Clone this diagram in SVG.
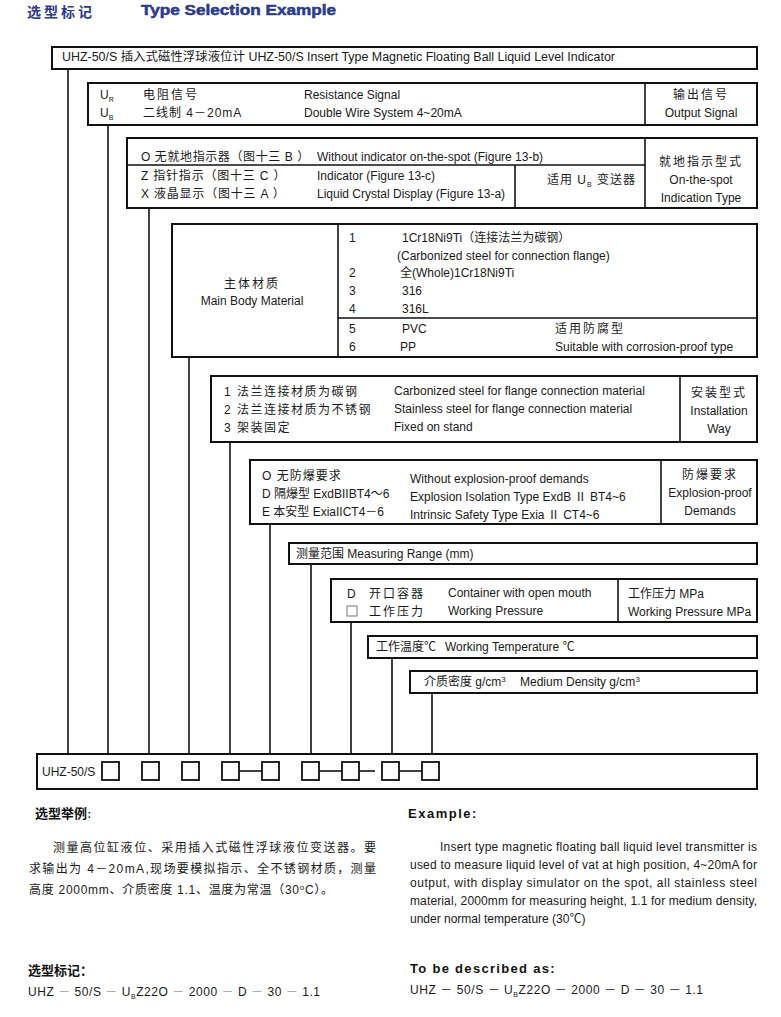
<svg xmlns="http://www.w3.org/2000/svg" width="781" height="1017" viewBox="0 0 781 1017">
<style>
text{font-family:"Liberation Sans","Noto Sans CJK SC",sans-serif;font-size:12px;fill:#1a1a1a}
.box{fill:#fff;stroke:#111;stroke-width:2}
.div{stroke:#111;stroke-width:1.6;fill:none}
.conn{stroke:#111;stroke-width:1.6;fill:none}
.sq{fill:#fff;stroke:#111;stroke-width:1.8}
.hd{font-weight:bold;fill:#2c3a8a;font-size:14px}
.bh{font-weight:bold;font-size:13px;fill:#111}
.c{text-anchor:middle}
.sub{font-size:7px}
.gr{fill:#999}
</style>
<rect width="781" height="1017" fill="#fff"/>
<g id="header">
<text class="hd" x="27" y="17" letter-spacing="3">选型标记</text>
<text class="hd" x="141" y="15" textLength="195" lengthAdjust="spacingAndGlyphs" stroke="#2c3a8a" stroke-width="0.5">Type Selection Example</text>
</g>
<g id="connectors">
<line class="conn" x1="68" y1="69" x2="68" y2="754"/>
<line class="conn" x1="108" y1="125" x2="108" y2="754"/>
<line class="conn" x1="149" y1="208" x2="149" y2="754"/>
<line class="conn" x1="189" y1="357" x2="189" y2="754"/>
<line class="conn" x1="230" y1="442" x2="230" y2="754"/>
<line class="conn" x1="270" y1="524" x2="270" y2="754"/>
<line class="conn" x1="311" y1="564" x2="311" y2="754"/>
<line class="conn" x1="351" y1="622" x2="351" y2="754"/>
<line class="conn" x1="392" y1="658" x2="392" y2="754"/>
<line class="conn" x1="432" y1="693" x2="432" y2="754"/>
</g>
<g id="node-model">
<rect class="box" x="52" y="47" width="705" height="22"/>
<text x="62" y="61" textLength="553" lengthAdjust="spacingAndGlyphs">UHZ-50/S 插入式磁性浮球液位计 UHZ-50/S Insert Type Magnetic Floating Ball Liquid Level Indicator</text>
</g>
<g id="node-output">
<rect class="box" x="88" y="83" width="669" height="42"/>
<line class="div" x1="645" y1="83" x2="645" y2="125"/>
<text x="100" y="99">U<tspan class="sub" dy="3">R</tspan></text>
<text x="100" y="117">U<tspan class="sub" dy="3">B</tspan></text>
<text x="143" y="99" letter-spacing="2">电阻信号</text>
<text x="143" y="117" letter-spacing="1">二线制 4－20mA</text>
<text x="304" y="99">Resistance Signal</text>
<text x="304" y="117">Double Wire System 4~20mA</text>
<text class="c" x="701" y="99" letter-spacing="2">输出信号</text>
<text class="c" x="701" y="117">Output Signal</text>
</g>
<g id="node-indicator">
<rect class="box" x="127" y="138" width="630" height="70"/>
<line class="div" x1="127" y1="165" x2="645" y2="165"/>
<line class="div" x1="515" y1="165" x2="515" y2="208"/>
<line class="div" x1="645" y1="138" x2="645" y2="208"/>
<text x="141" y="161" letter-spacing="0.6">O 无就地指示器（图十三 B ）</text>
<text x="317" y="161">Without indicator on-the-spot (Figure 13-b)</text>
<text x="141" y="180" letter-spacing="0.8">Z 指针指示（图十三 C ）</text>
<text x="317" y="180">Indicator (Figure 13-c)</text>
<text x="141" y="198" letter-spacing="0.8">X 液晶显示（图十三 A ）</text>
<text x="317" y="198">Liquid Crystal Display (Figure 13-a)</text>
<text x="547" y="184" letter-spacing="1">适用 U<tspan class="sub" dy="3">B</tspan><tspan dy="-3"> 变送器</tspan></text>
<text class="c" x="701" y="166" letter-spacing="2">就地指示型式</text>
<text class="c" x="701" y="184">On-the-spot</text>
<text class="c" x="701" y="202">Indication Type</text>
</g>
<g id="node-material">
<rect class="box" x="172" y="224" width="585" height="133"/>
<line class="div" x1="338" y1="224" x2="338" y2="357"/>
<line class="div" x1="338" y1="318" x2="757" y2="318"/>
<text class="c" x="252" y="288" letter-spacing="2">主体材质</text>
<text class="c" x="252" y="305">Main Body Material</text>
<text x="349" y="242">1</text>
<text x="402" y="242">1Cr18Ni9Ti（连接法兰为碳钢）</text>
<text x="397" y="260">(Carbonized steel for connection flange)</text>
<text x="349" y="277">2</text>
<text x="400" y="277">全(Whole)1Cr18Ni9Ti</text>
<text x="349" y="295">3</text>
<text x="402" y="295">316</text>
<text x="349" y="313">4</text>
<text x="402" y="313">316L</text>
<text x="349" y="333">5</text>
<text x="402" y="333">PVC</text>
<text x="555" y="333" letter-spacing="2">适用防腐型</text>
<text x="349" y="351">6</text>
<text x="400" y="351">PP</text>
<text x="555" y="351">Suitable with corrosion-proof  type</text>
</g>
<g id="node-installation">
<rect class="box" x="211" y="376" width="546" height="66"/>
<line class="div" x1="680" y1="376" x2="680" y2="442"/>
<text x="224" y="396" letter-spacing="1.5">1 法兰连接材质为碳钢</text>
<text x="224" y="414" letter-spacing="1.5">2 法兰连接材质为不锈钢</text>
<text x="224" y="432" letter-spacing="1.5">3 架装固定</text>
<text x="394" y="395">Carbonized steel for flange connection material</text>
<text x="394" y="413">Stainless steel for flange connection material</text>
<text x="394" y="431">Fixed on stand</text>
<text class="c" x="719" y="397" letter-spacing="2">安装型式</text>
<text class="c" x="719" y="415">Installation</text>
<text class="c" x="719" y="433">Way</text>
</g>
<g id="node-explosion">
<rect class="box" x="250" y="460" width="507" height="64"/>
<line class="div" x1="661" y1="460" x2="661" y2="524"/>
<text x="262" y="480" letter-spacing="1">O 无防爆要求</text>
<text x="262" y="498">D 隔爆型 ExdBIIBT4～6</text>
<text x="262" y="516">E 本安型 ExiaIICT4－6</text>
<text x="410" y="483">Without explosion-proof demands</text>
<text x="410" y="501">Explosion Isolation Type ExdB Ⅱ BT4~6</text>
<text x="410" y="519">Intrinsic Safety Type Exia Ⅱ CT4~6</text>
<text class="c" x="710" y="479" letter-spacing="2">防爆要求</text>
<text class="c" x="710" y="497">Explosion-proof</text>
<text class="c" x="710" y="515">Demands</text>
</g>
<g id="node-range">
<rect class="box" x="289" y="543" width="468" height="21"/>
<text x="296" y="558">测量范围 Measuring Range (mm)</text>
</g>
<g id="node-pressure">
<rect class="box" x="331" y="579" width="426" height="43"/>
<line class="div" x1="618" y1="579" x2="618" y2="622"/>
<text x="347" y="598">D</text>
<text x="369" y="598" letter-spacing="2">开口容器</text>
<rect x="347" y="606" width="10" height="10" fill="none" stroke="#777" stroke-width="1"/>
<text x="369" y="616" letter-spacing="2">工作压力</text>
<text x="448" y="597">Container with open mouth</text>
<text x="448" y="615">Working Pressure</text>
<text x="628" y="598">工作压力 MPa</text>
<text x="628" y="616">Working Pressure MPa</text>
</g>
<g id="node-temperature">
<rect class="box" x="368" y="636" width="389" height="22"/>
<text x="376" y="651">工作温度℃</text>
<text x="445" y="651">Working Temperature ℃</text>
</g>
<g id="node-density">
<rect class="box" x="410" y="671" width="347" height="22"/>
<text x="424" y="686">介质密度 g/cm<tspan font-size="8" dy="-4">3</tspan></text>
<text x="520" y="686">Medium Density g/cm<tspan font-size="8" dy="-4">3</tspan></text>
</g>
<g id="node-code">
<rect class="box" x="37" y="754" width="720" height="35"/>
<text x="42" y="776">UHZ-50/S</text>
<rect class="sq" x="102" y="762" width="17" height="18"/>
<rect class="sq" x="142" y="762" width="17" height="18"/>
<rect class="sq" x="182" y="762" width="17" height="18"/>
<rect class="sq" x="222" y="762" width="17" height="18"/>
<line class="div" x1="239" y1="771" x2="262" y2="771"/>
<rect class="sq" x="262" y="762" width="17" height="18"/>
<rect class="sq" x="302" y="762" width="17" height="18"/>
<line class="div" x1="319" y1="771" x2="342" y2="771"/>
<rect class="sq" x="342" y="762" width="17" height="18"/>
<line class="div" x1="359" y1="771" x2="375" y2="771"/>
<rect class="sq" x="382" y="762" width="17" height="18"/>
<line class="div" x1="399" y1="771" x2="422" y2="771"/>
<rect class="sq" x="422" y="762" width="17" height="18"/>
</g>
<g id="example-cn">
<text class="bh" x="35" y="818">选型举例<tspan font-size="9">：</tspan></text>
<text x="53" y="852" font-size="12.5" textLength="323" lengthAdjust="spacing">测量高位缸液位、采用插入式磁性浮球液位变送器。要</text>
<text x="29" y="873" font-size="12.5" textLength="347" lengthAdjust="spacing">求输出为 4－20mA,现场要模拟指示、全不锈钢材质，测量</text>
<text x="29" y="894" font-size="12.5" textLength="304" lengthAdjust="spacing">高度 2000mm、介质密度 1.1、温度为常温（30<tspan font-size="8" dy="-4">o</tspan><tspan dy="4">C）。</tspan></text>
<text class="bh" x="28" y="975">选型标记：</text>
<text x="28" y="996" font-size="12.5" textLength="292" lengthAdjust="spacing">UHZ <tspan class="gr">－</tspan> 50/S <tspan class="gr">－</tspan> U<tspan class="sub" dy="3">B</tspan><tspan dy="-3">Z22O </tspan><tspan class="gr">－</tspan> 2000 <tspan class="gr">－</tspan> D <tspan class="gr">－</tspan> 30 <tspan class="gr">－</tspan> 1.1</text>
</g>
<g id="example-en">
<text class="bh" x="408" y="818" letter-spacing="1.5">Example:</text>
<text x="440" y="851" font-size="11.5" textLength="317" lengthAdjust="spacing">Insert type magnetic floating ball liquid level transmitter is</text>
<text x="410" y="869" font-size="11.5" textLength="347" lengthAdjust="spacing">used to measure liquid level of vat at high position, 4~20mA for</text>
<text x="410" y="887" font-size="11.5" textLength="347" lengthAdjust="spacing">output, with display simulator on the spot, all stainless steel</text>
<text x="410" y="905" font-size="11.5" textLength="347" lengthAdjust="spacing">material, 2000mm for measuring height, 1.1 for medium density,</text>
<text x="410" y="923" font-size="11.5">under normal temperature (30℃)</text>
<text class="bh" x="410" y="973" letter-spacing="1.3">To be described as:</text>
<text x="410" y="994" font-size="12.5" textLength="293" lengthAdjust="spacing">UHZ － 50/S － U<tspan class="sub" dy="3">B</tspan><tspan dy="-3">Z22O － 2000 － D － 30 － 1.1</tspan></text>
</g>
</svg>
